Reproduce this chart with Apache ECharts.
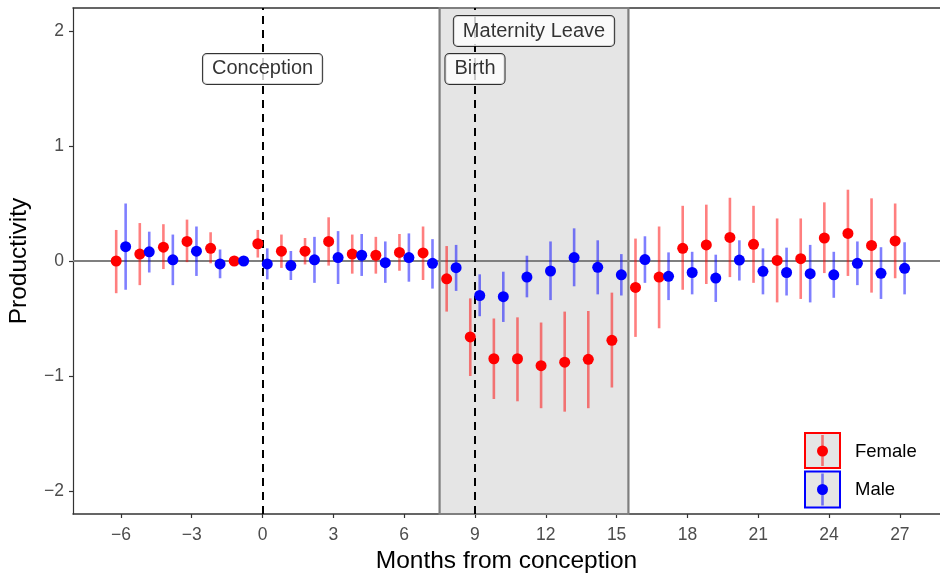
<!DOCTYPE html>
<html>
<head>
<meta charset="utf-8">
<script src="https://cdn.jsdelivr.net/npm/echarts@6/dist/echarts.min.js"></script>
<style>html,body{margin:0;padding:0;background:#fff}#c{width:940px;height:574px}</style>
</head>
<body>
<div id="c"></div>
<script>
const months = [-6,-5,-4,-3,-2,-1,0,1,2,3,4,5,6,7,8,9,10,11,12,13,14,15,16,17,18,19,20,21,22,23,24,25,26,27];
const femaleEst = [0.00,0.06,0.12,0.17,0.11,0.00,0.15,0.085,0.085,0.17,0.06,0.05,0.075,0.07,-0.155,-0.66,-0.85,-0.85,-0.91,-0.88,-0.855,-0.69,-0.23,-0.14,0.11,0.14,0.205,0.145,0.005,0.02,0.20,0.24,0.135,0.175];
const femaleLo = [-0.28,-0.21,-0.07,-0.01,-0.02,0,0.03,-0.06,-0.03,-0.04,-0.11,-0.11,-0.085,-0.165,-0.44,-1.0,-1.2,-1.22,-1.28,-1.31,-1.28,-1.1,-0.66,-0.585,-0.25,-0.20,-0.14,-0.19,-0.36,-0.33,-0.105,-0.13,-0.275,-0.15];
const femaleHi = [0.27,0.33,0.32,0.36,0.25,0,0.27,0.23,0.20,0.38,0.23,0.21,0.235,0.30,0.13,-0.325,-0.50,-0.49,-0.535,-0.44,-0.435,-0.275,0.195,0.30,0.48,0.49,0.55,0.48,0.37,0.37,0.51,0.62,0.545,0.50];
const maleEst = [0.125,0.08,0.01,0.085,-0.025,0.0,-0.025,-0.04,0.01,0.03,0.05,-0.015,0.03,-0.02,-0.058,-0.30,-0.31,-0.14,-0.087,0.03,-0.055,-0.12,0.012,-0.133,-0.10,-0.148,0.008,-0.09,-0.10,-0.11,-0.12,-0.02,-0.107,-0.064];
const maleLo = [-0.25,-0.10,-0.21,-0.13,-0.15,0,-0.16,-0.165,-0.19,-0.20,-0.13,-0.19,-0.18,-0.24,-0.26,-0.48,-0.53,-0.316,-0.34,-0.22,-0.29,-0.30,-0.19,-0.34,-0.29,-0.356,-0.17,-0.29,-0.30,-0.36,-0.32,-0.21,-0.33,-0.29];
const maleHi = [0.50,0.255,0.23,0.30,0.10,0,0.11,0.087,0.21,0.26,0.235,0.17,0.24,0.19,0.14,-0.116,-0.093,0.046,0.17,0.284,0.18,0.06,0.215,0.075,0.08,0.055,0.18,0.11,0.116,0.14,0.08,0.17,0.12,0.163];
const xTicks = [-6,-3,0,3,6,9,12,15,18,21,24,27];
const yTicks = [-2,-1,0,1,2];
const eventLines = [0, 9];
const leaveSpan = [7.5, 15.5];
const annotations = [[0,1.67,'Conception'],[9,1.67,'Birth'],[11.5,2.0,'Maternity Leave']];
const seriesNames = ['Female','Male'];

const DODGE = 0.2;
const FONT = '"Liberation Sans", Arial, Helvetica, sans-serif';
const fmt = v => String(v).replace('-', '\u2212');

const fPts = months.map((m,i)=>[m-DODGE, femaleEst[i]]);
const mPts = months.map((m,i)=>[m+DODGE, maleEst[i]]);
const fBars = months.map((m,i)=>[m-DODGE, femaleLo[i], femaleHi[i]]);
const mBars = months.map((m,i)=>[m+DODGE, maleLo[i], maleHi[i]]);

function barRender(color){
  return function(params, api){
    const x = api.value(0);
    const p1 = api.coord([x, api.value(1)]);
    const p2 = api.coord([x, api.value(2)]);
    return {type:'line', shape:{x1:p1[0],y1:p1[1],x2:p2[0],y2:p2[1]}, style:{stroke:color, lineWidth:2.6, opacity:0.5}};
  };
}

const chart = echarts.init(document.getElementById('c'), null, {renderer:'canvas'});
const axisCol = '#333333';
const option = {
  animation:false,
  textStyle:{fontFamily:FONT},
  grid:{left:73, right:0, top:8, bottom:60, containLabel:false, outerBoundsMode:'none'},
  xAxis:[{
    type:'value', min:-8.03, max:28.7,
    axisLine:{show:true, onZero:false, lineStyle:{color:axisCol, width:1.5}},
    axisTick:{show:true, customValues:xTicks, length:4, lineStyle:{color:axisCol, width:1.2}},
    axisLabel:{customValues:xTicks, formatter:fmt, color:'#4D4D4D', fontSize:17.5, margin:12, fontFamily:FONT},
    splitLine:{show:false},
    name:'Months from conception', nameLocation:'middle', nameGap:35,
    nameTextStyle:{fontSize:24.5, color:'#000', fontFamily:FONT}
  },{
    type:'value', position:'top', min:-8.03, max:28.7,
    axisLine:{show:true, onZero:false, lineStyle:{color:axisCol, width:1.5}},
    axisTick:{show:false}, axisLabel:{show:false}, splitLine:{show:false}
  }],
  yAxis:{
    type:'value', min:-2.2, max:2.2,
    axisLine:{show:true, onZero:false, lineStyle:{color:axisCol, width:1.2}},
    axisTick:{show:true, customValues:yTicks, length:4, lineStyle:{color:axisCol, width:1.2}},
    axisLabel:{customValues:yTicks, formatter:fmt, color:'#4D4D4D', fontSize:17.5, margin:9, fontFamily:FONT},
    splitLine:{show:false},
    name:'Productivity', nameLocation:'middle', nameGap:41, nameRotate:90,
    nameTextStyle:{fontSize:24.5, color:'#000', fontFamily:FONT}
  },
  series:[
    {
      type:'line', data:[], silent:true, z:1,
      markArea:{silent:true, data:[[{xAxis:leaveSpan[0]},{xAxis:leaveSpan[1]}]],
        itemStyle:{color:'#E5E5E5', opacity:1, borderColor:'#7F7F7F', borderWidth:2.2}},
      markLine:{silent:true, symbol:'none', label:{show:false},
        data:[
          {yAxis:0, lineStyle:{color:'#7F7F7F', width:2, type:'solid'}},
          ...eventLines.map(v=>({xAxis:v, lineStyle:{color:'#000', width:2, type:[8,6]}}))
        ]}
    },
    {
      type:'scatter', z:5, silent:true, symbolSize:0.1, itemStyle:{color:'transparent'},
      data:annotations,
      label:{show:true, position:'inside', formatter:p=>p.data[2], color:'#000', fontSize:20, lineHeight:20,
        fontFamily:FONT, backgroundColor:'#fff', borderColor:'#000', borderWidth:1, borderRadius:4, padding:[5,9,5,9]}
    },
    {type:'custom', name:seriesNames[0], z:6, renderItem:barRender('#FF0000'), data:fBars, encode:{x:0,y:[1,2]}},
    {type:'custom', name:seriesNames[1], z:6, renderItem:barRender('#0000FF'), data:mBars, encode:{x:0,y:[1,2]}},
    {type:'scatter', name:seriesNames[0], z:7, symbolSize:11, itemStyle:{color:'#FF0000', opacity:1}, data:fPts},
    {type:'scatter', name:seriesNames[1], z:7, symbolSize:11, itemStyle:{color:'#0000FF', opacity:1}, data:mPts}
  ],
  graphic:[
    {type:'rect', shape:{x:805,y:433,width:35,height:35}, style:{fill:'#E5E5E5', stroke:'#FF0000', lineWidth:2}},
    {type:'line', shape:{x1:822.5,y1:435,x2:822.5,y2:466}, style:{stroke:'#FF0000', lineWidth:2.6, opacity:0.5}},
    {type:'circle', shape:{cx:822.5,cy:451,r:5.5}, style:{fill:'#FF0000'}},
    {type:'text', x:855, y:452, style:{text:seriesNames[0], fill:'#000', font:'18.5px '+FONT, verticalAlign:'middle'}},
    {type:'rect', shape:{x:805,y:471.5,width:35,height:36}, style:{fill:'#E5E5E5', stroke:'#0000FF', lineWidth:2}},
    {type:'line', shape:{x1:822.5,y1:473.5,x2:822.5,y2:505.5}, style:{stroke:'#0000FF', lineWidth:2.6, opacity:0.5}},
    {type:'circle', shape:{cx:822.5,cy:489.5,r:5.5}, style:{fill:'#0000FF'}},
    {type:'text', x:855, y:490, style:{text:seriesNames[1], fill:'#000', font:'18.5px '+FONT, verticalAlign:'middle'}}
  ]
};
chart.setOption(option);
</script>
</body>
</html>
